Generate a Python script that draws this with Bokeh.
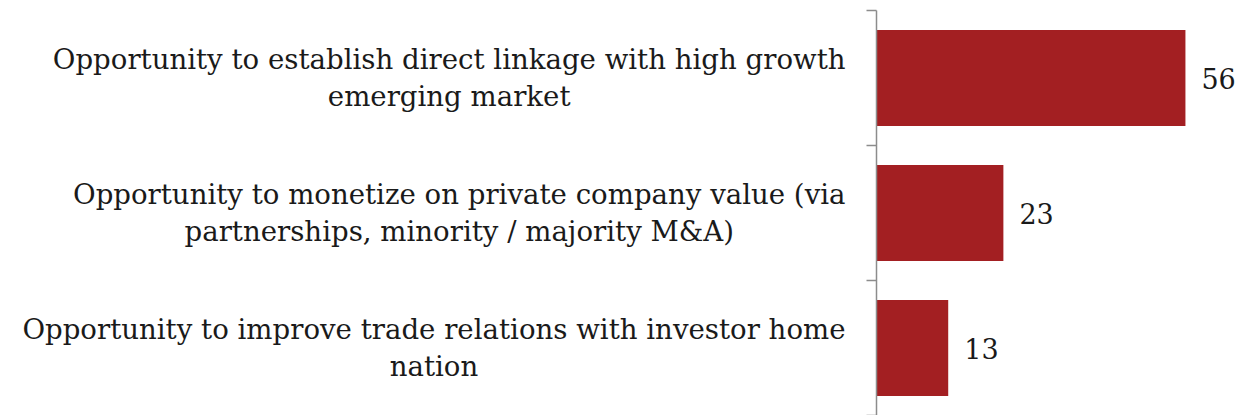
from bokeh.plotting import figure
from bokeh.models import ColumnDataSource, Range1d, LinearAxis, FixedTicker
from bokeh.core.properties import value
from bokeh.embed import file_html
from bokeh.resources import INLINE

categories = [
    "Opportunity to establish direct linkage with high growth\nemerging market",
    "Opportunity to monetize on private company value (via\npartnerships, minority / majority M&A)",
    "Opportunity to improve trade relations with investor home\nnation",
]
values = [56, 23, 13]
value_labels = [str(v) for v in values]

BAR = "#A31F22"
TXT = "#1a1a1a"
AXC = "#8c8c8c"
FONT = "DejaVu Serif"

n = len(categories)
ypos = [n - i - 0.5 for i in range(n)]  # first category at top
src = ColumnDataSource(dict(cat=categories, val=values, lab=value_labels, y=ypos))

p = figure(width=1239, height=415,
           y_range=Range1d(0, n),
           x_range=Range1d(0, 65.8),
           x_axis_location=None, y_axis_location=None,
           output_backend="svg", toolbar_location=None,
           min_border_left=876, min_border_right=0,
           min_border_top=10, min_border_bottom=0)
p.outline_line_color = None
p.grid.visible = False
p.background_fill_color = "white"

nt = list(range(n + 1))
ax = LinearAxis(ticker=FixedTicker(ticks=nt),
                major_label_overrides={t: "" for t in nt},
                major_label_text_font_size="0px", major_label_standoff=0,
                minor_tick_line_color=None, major_tick_in=0, major_tick_out=10,
                axis_line_color=AXC, axis_line_width=1.5,
                major_tick_line_color=AXC, major_tick_line_width=1.5)
p.add_layout(ax, "left")

p.hbar(y="y", right="val", left=0, height=0.71, source=src,
       fill_color=BAR, line_color=None)

vl = p.text(x="val", y="y", text="lab", source=src, x_offset=16,
            text_baseline="middle", text_align="left",
            text_font=value(FONT), text_font_size="27px", text_color=TXT)
vl.level = "overlay"

cl = p.text(x=0, y="y", text="cat", source=src, x_offset=-31,
            anchor=value("center_right"), text_align="center",
            text_baseline="middle", text_line_height=1.15,
            text_font=value(FONT), text_font_size="27.6px", text_color=TXT)
cl.level = "overlay"

open("out.html", "w").write(file_html(p, INLINE))
